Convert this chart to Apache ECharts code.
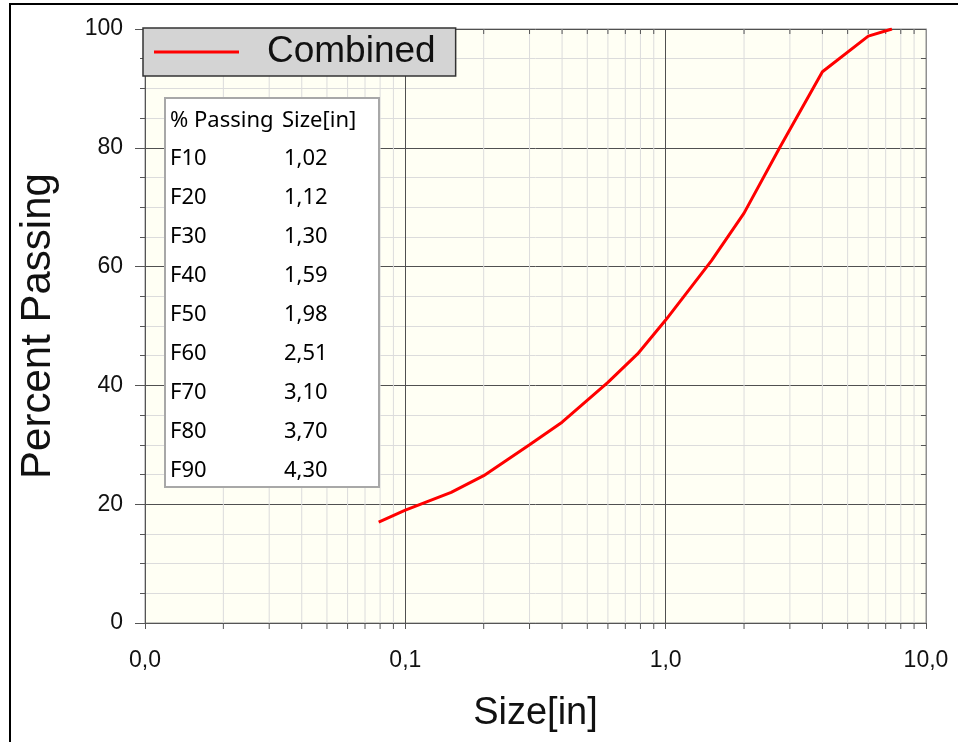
<!DOCTYPE html>
<html>
<head>
<meta charset="utf-8">
<script src="https://cdn.jsdelivr.net/npm/echarts@6/dist/echarts.min.js"></script>
<style>
html, body { margin: 0; padding: 0; background: #fff; }
#main { width: 958px; height: 742px; }
</style>
</head>
<body>
<div id="main"></div>
<script>
// curve
var sizes = [0.079, 0.1, 0.15, 0.2, 0.3, 0.4, 0.6, 0.78, 1.0, 1.5, 2.0, 2.74, 4.0, 6.0, 7.4]
var passing = [17, 19, 22, 24.8, 30, 33.8, 40.5, 45.3, 51, 61, 69, 80, 92.8, 98.8, 100]

// table in the plot
var tableHeader = ['% Passing', 'Size[in]']
var tableLabels = ['F10', 'F20', 'F30', 'F40', 'F50', 'F60', 'F70', 'F80', 'F90']
var tableSizes = ['1,02', '1,12', '1,30', '1,59', '1,98', '2,51', '3,10', '3,70', '4,30']

// minor log ticks (2..9 of every decade)
var decades = [0.01, 0.1, 1]
var minorX = []
decades.forEach(function (d) {
	for (var k = 2; k <= 9; k++) {
		minorX.push([d * k, 0])
	}
})

var tableFont = '22px "Noto Sans"'

var myChart = echarts.init(document.getElementById('main'))

var tableChildren = [{
	type: 'rect',
	z: 100,
	shape: { x: 165, y: 98, width: 214, height: 389 },
	style: { fill: '#fff', stroke: '#a8a8a8', lineWidth: 2 }
}, {
	type: 'text',
	z: 101,
	style: { x: 170, y: 121, text: tableHeader[0], font: tableFont, fill: '#000', verticalAlign: 'middle' }
}, {
	type: 'text',
	z: 101,
	style: { x: 282, y: 121, text: tableHeader[1], font: tableFont, fill: '#000', verticalAlign: 'middle' }
}]
tableLabels.forEach(function (lab, i) {
	var y = 159 + i * 39
	tableChildren.push({
		type: 'text',
		z: 101,
		style: { x: 170, y: y, text: lab, font: tableFont, fill: '#000', verticalAlign: 'middle' }
	})
	tableChildren.push({
		type: 'text',
		z: 101,
		style: { x: 284, y: y, text: tableSizes[i], font: tableFont, fill: '#000', verticalAlign: 'middle' }
	})
})

var option = {
	animation: false,
	backgroundColor: '#fff',
	textStyle: { fontFamily: 'Liberation Sans' },
	grid: {
		left: 145,
		right: 32,
		top: 29,
		bottom: 119,
		show: true,
		backgroundColor: '#fffff4',
		borderColor: '#909090',
		borderWidth: 1
	},
	legend: {
		data: [{ name: 'Combined', icon: 'rect' }],
		left: 143,
		top: 28,
		backgroundColor: '#d4d4d4',
		borderColor: '#333',
		borderWidth: 1.5,
		padding: [5, 20, 5, 11],
		itemWidth: 85,
		itemHeight: 3,
		textStyle: {
			fontFamily: 'Liberation Sans',
			fontSize: 37,
			color: '#111',
			lineHeight: 38,
			padding: [0, 0, 0, 23]
		}
	},
	xAxis: {
		type: 'log',
		logBase: 10,
		min: 0.01,
		max: 10,
		name: 'Size[in]',
		nameLocation: 'middle',
		nameGap: 72,
		nameTextStyle: { fontSize: 38, color: '#111', fontFamily: 'Liberation Sans' },
		axisLine: { lineStyle: { color: '#555' } },
		axisTick: { length: 6, lineStyle: { color: '#555' } },
		axisLabel: {
			margin: 26,
			fontSize: 23,
			color: '#111',
			formatter: function (v) { return v.toFixed(1).replace('.', ',') }
		},
		splitLine: { show: true, lineStyle: { color: '#505050', width: 1 } }
	},
	yAxis: [{
		type: 'value',
		min: 0,
		max: 100,
		interval: 20,
		name: 'Percent Passing',
		nameLocation: 'middle',
		nameGap: 86,
		nameTextStyle: { fontSize: 42, color: '#111', fontFamily: 'Liberation Sans' },
		axisLine: { show: true, lineStyle: { color: '#555' } },
		axisTick: { show: true, length: 10, lineStyle: { color: '#555' } },
		minorTick: { show: true, splitNumber: 4, length: 5, lineStyle: { color: '#555' } },
		axisLabel: { margin: 22, fontSize: 23, color: '#111' },
		splitLine: { show: true, lineStyle: { color: '#505050', width: 1 } },
		minorSplitLine: { show: true, lineStyle: { color: '#dcdcdc', width: 1 } }
	}, {
		type: 'value',
		position: 'right',
		min: 0,
		max: 100,
		interval: 20,
		axisLine: { show: true, lineStyle: { color: '#909090' } },
		axisTick: { show: true, inside: true, length: 5, lineStyle: { color: '#555' } },
		minorTick: { show: true, splitNumber: 4, length: 5, lineStyle: { color: '#555' } },
		axisLabel: { show: false },
		splitLine: { show: false }
	}],
	graphic: [{
		type: 'rect',
		shape: { x: 10, y: 4, width: 1000, height: 800 },
		style: { fill: 'none', stroke: '#000', lineWidth: 2 },
		z: 100
	}, {
		type: 'group',
		z: 100,
		children: tableChildren
	}],
	series: [{
		type: 'custom',
		name: 'minor',
		z: 1,
		silent: true,
		data: minorX,
		renderItem: function (params, api) {
			var top = api.coord([api.value(0), 100])
			var bot = api.coord([api.value(0), 0])
			return {
				type: 'group',
				children: [{
					type: 'line',
					shape: { x1: top[0], y1: top[1], x2: bot[0], y2: bot[1] },
					style: { stroke: '#dcdcdc', lineWidth: 1 }
				}, {
					type: 'line',
					shape: { x1: bot[0], y1: bot[1], x2: bot[0], y2: bot[1] + 6 },
					style: { stroke: '#555', lineWidth: 1 }
				}, {
					type: 'line',
					shape: { x1: top[0], y1: top[1], x2: top[0], y2: top[1] + 5 },
					style: { stroke: '#555', lineWidth: 1 }
				}]
			}
		}
	}, {
		type: 'line',
		name: 'Combined',
		data: sizes.map(function (s, i) { return [s, passing[i]] }),
		symbol: 'none',
		showSymbol: false,
		smooth: false,
		z: 5,
		lineStyle: { color: '#ff0000', width: 3 },
		itemStyle: { color: '#ff0000' }
	}]
}

myChart.setOption(option)
</script>
</body>
</html>
